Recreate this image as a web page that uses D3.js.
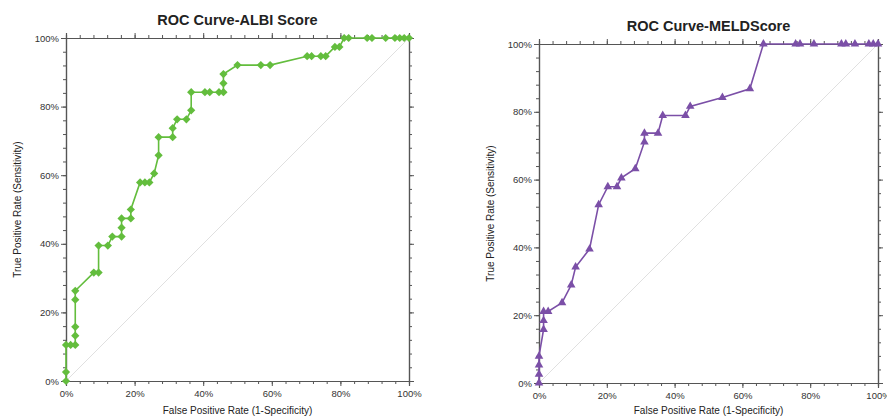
<!DOCTYPE html>
<html>
<head>
<meta charset="utf-8">
<script src="https://cdn.jsdelivr.net/npm/d3@7"></script>
<style>
  body { margin: 0; background: #fff; }
  text { font-family: "Liberation Sans", Arial, sans-serif; }
</style>
</head>
<body>
<script>
// ROC points (FPR, TPR as fractions)
var albiFpr = [0, 0, 0, 0.0135, 0.027, 0.027, 0.027, 0.027, 0.027, 0.081, 0.095, 0.095, 0.122, 0.135, 0.162, 0.162, 0.162, 0.189, 0.189,
               0.216, 0.230, 0.243, 0.257, 0.270, 0.270, 0.311, 0.311, 0.324, 0.351, 0.365, 0.365, 0.405, 0.419, 0.446, 0.459, 0.459, 0.459,
               0.500, 0.568, 0.595, 0.703, 0.716, 0.743, 0.757, 0.784, 0.797, 0.811, 0.824, 0.878, 0.892, 0.932, 0.959, 0.973, 0.986, 1];
var albiTpr = [0, 0.026, 0.105, 0.105, 0.105, 0.132, 0.158, 0.237, 0.263, 0.316, 0.316, 0.395, 0.395, 0.421, 0.421, 0.447, 0.474, 0.474, 0.500,
               0.579, 0.579, 0.579, 0.605, 0.658, 0.711, 0.711, 0.737, 0.763, 0.763, 0.789, 0.842, 0.842, 0.842, 0.842, 0.842, 0.868, 0.895,
               0.921, 0.921, 0.921, 0.947, 0.947, 0.947, 0.947, 0.974, 0.974, 1, 1, 1, 1, 1, 1, 1, 1, 1];

var meldFpr = [0, 0, 0, 0, 0.0135, 0.0135, 0.0135, 0.027, 0.068, 0.095, 0.108, 0.149, 0.176, 0.203, 0.230, 0.243, 0.284, 0.311, 0.311,
               0.351, 0.365, 0.432, 0.446, 0.541, 0.622, 0.662, 0.757, 0.770, 0.811, 0.892, 0.905, 0.932, 0.973, 0.986, 1];
var meldTpr = [0, 0.026, 0.053, 0.079, 0.158, 0.184, 0.211, 0.211, 0.237, 0.289, 0.342, 0.395, 0.526, 0.579, 0.579, 0.605, 0.632, 0.711, 0.737,
               0.737, 0.789, 0.789, 0.816, 0.842, 0.868, 1, 1, 1, 1, 1, 1, 1, 1, 1, 1];

var majorTicks = [0, 0.2, 0.4, 0.6, 0.8, 1];
var minorTicks = d3.range(0, 1.0001, 0.04);

var titles = ["ROC Curve-ALBI Score", "ROC Curve-MELDScore"];
var xLabel = "False Positive Rate (1-Specificity)";
var yLabel = "True Positive Rate (Sensitivity)";

var width = 887, height = 417;
var svg = d3.select("body").append("svg")
            .attr("width", width)
            .attr("height", height);

var pct = d3.format(".0%");

function drawRoc(fpr, tpr, box, title, color, symbol, symRotate, titleY) {
  var x = d3.scaleLinear().domain([0, 1]).range([box.left, box.right]);
  var y = d3.scaleLinear().domain([0, 1]).range([box.bottom, box.top]);
  var g = svg.append("g");

  // chance diagonal
  g.append("line")
    .attr("x1", x(0)).attr("y1", y(0))
    .attr("x2", x(1)).attr("y2", y(1))
    .attr("stroke", "#e0e0e0")
    .attr("stroke-width", 1);

  // minor ticks on all four sides
  var minor = [
    [d3.axisBottom(x), "translate(0," + box.bottom + ")"],
    [d3.axisTop(x), "translate(0," + box.top + ")"],
    [d3.axisLeft(y), "translate(" + box.left + ",0)"],
    [d3.axisRight(y), "translate(" + box.right + ",0)"]
  ];
  minor.forEach(function(m) {
    g.append("g").attr("class", "ax")
      .attr("transform", m[1])
      .call(m[0].tickValues(minorTicks).tickSize(3).tickFormat(""));
  });

  // major ticks
  g.append("g").attr("class", "ax")
    .attr("transform", "translate(0," + box.bottom + ")")
    .call(d3.axisBottom(x).tickValues(majorTicks).tickSize(5).tickPadding(4).tickFormat(pct));
  g.append("g").attr("class", "ax")
    .attr("transform", "translate(0," + box.top + ")")
    .call(d3.axisTop(x).tickValues(majorTicks).tickSize(5).tickFormat(""));
  g.append("g").attr("class", "ax")
    .attr("transform", "translate(" + box.left + ",0)")
    .call(d3.axisLeft(y).tickValues(majorTicks).tickSize(5).tickPadding(2).tickFormat(pct));
  g.append("g").attr("class", "ax")
    .attr("transform", "translate(" + box.right + ",0)")
    .call(d3.axisRight(y).tickValues(majorTicks).tickSize(5).tickFormat(""));

  g.selectAll(".ax path").attr("stroke", "#555").attr("stroke-width", 1.2);
  g.selectAll(".ax line").attr("stroke", "#555");
  g.selectAll(".ax text")
    .attr("font-family", "Liberation Sans, Arial, sans-serif")
    .attr("font-size", "9.5px")
    .attr("fill", "#333");

  var pts = fpr.map(function(d, i) { return [d, tpr[i]]; });

  g.append("path")
    .datum(pts)
    .attr("fill", "none")
    .attr("stroke", color)
    .attr("stroke-width", 1.6)
    .attr("d", d3.line().x(function(d) { return x(d[0]); }).y(function(d) { return y(d[1]); }));

  g.selectAll(".pt")
    .data(pts)
    .enter()
    .append("path")
    .attr("class", "pt")
    .attr("transform", function(d) { return "translate(" + x(d[0]) + "," + y(d[1]) + ") rotate(" + symRotate + ")"; })
    .attr("d", symbol)
    .attr("fill", color);

  var cx = (box.left + box.right) / 2;
  g.append("text")
    .attr("x", cx).attr("y", titleY)
    .attr("text-anchor", "middle")
    .attr("font-size", "14.5px")
    .attr("font-weight", "bold")
    .attr("fill", "#222")
    .text(title);

  g.append("text")
    .attr("x", cx).attr("y", 414)
    .attr("text-anchor", "middle")
    .attr("font-size", "10px")
    .attr("fill", "#222")
    .text(xLabel);

  g.append("text")
    .attr("transform", "translate(" + (box.left - 45) + "," + ((box.top + box.bottom) / 2) + ") rotate(-90)")
    .attr("text-anchor", "middle")
    .attr("font-size", "10px")
    .attr("fill", "#222")
    .text(yLabel);
}

var diamond = d3.symbol().type(d3.symbolSquare).size(34)();
var triangle = d3.symbol().type(d3.symbolTriangle).size(32)();

drawRoc(albiFpr, albiTpr, { left: 66, right: 409, top: 38, bottom: 381 }, titles[0], "#63bd3d", diamond, 45, 25);
drawRoc(meldFpr, meldTpr, { left: 539, right: 878, top: 44, bottom: 383 }, titles[1], "#7b4fa7", triangle, 0, 31);
</script>
</body>
</html>
